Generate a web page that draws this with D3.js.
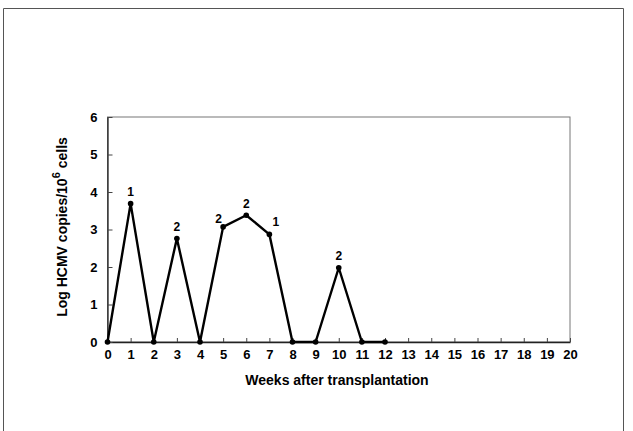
<!DOCTYPE html>
<html>
<head>
<meta charset="utf-8">
<script src="https://cdn.jsdelivr.net/npm/d3@7.9.0/dist/d3.min.js"></script>
<style>
  body { margin: 0; background: #fff; }
  svg { display: block; font-family: "Liberation Sans", Arial, sans-serif; }
</style>
</head>
<body>
<div id="chart"></div>
<script>
// weeks after transplantation and log HCMV copies / 10^6 cells
const weeks = [0, 1, 2, 3, 4, 5, 6, 7, 8, 9, 10, 11, 12];
const logCopies = [0, 3.69, 0, 2.76, 0, 3.07, 3.38, 2.87, 0, 0, 1.98, 0, 0];
// numbers printed above some points
const pointLabels = [null, '1', null, '2', null, '2', '2', '1', null, null, '2', null, null];
const xTicks = d3.range(0, 21);
const yTicks = [0, 1, 2, 3, 4, 5, 6];

const width = 633, height = 431;
const area = { left: 107.5, right: 570, top: 117, bottom: 342 };

const svg = d3.select('#chart').append('svg')
  .attr('width', width)
  .attr('height', height);

// outer frame of the figure
svg.append('path')
  .attr('d', `M3.5,${height} V8.5 H623.5 V${height}`)
  .attr('fill', 'none')
  .attr('stroke', '#555')
  .attr('stroke-width', 1);

const x = d3.scaleLinear().domain([0, 20]).range([area.left, area.right]);
const y = d3.scaleLinear().domain([0, 6]).range([area.bottom, area.top]);

// plot box
svg.append('rect')
  .attr('x', area.left).attr('y', area.top)
  .attr('width', area.right - area.left).attr('height', area.bottom - area.top)
  .attr('fill', 'none').attr('stroke', '#777').attr('stroke-width', 1);

const xAxis = svg.append('g')
  .attr('transform', `translate(0,${area.bottom})`)
  .call(d3.axisBottom(x).tickValues(xTicks).tickFormat(d3.format('d'))
    .tickSizeInner(-4).tickSizeOuter(0).tickPadding(8));

const yAxis = svg.append('g')
  .attr('transform', `translate(${area.left},0)`)
  .call(d3.axisLeft(y).tickValues(yTicks).tickFormat(d3.format('d'))
    .tickSizeInner(-5).tickSizeOuter(0).tickPadding(10));

[xAxis, yAxis].forEach(g => {
  g.select('.domain').attr('stroke', '#222').attr('stroke-width', 1.3);
  g.selectAll('.tick line').attr('stroke', '#444');
  g.selectAll('.tick text')
    .attr('fill', '#000')
    .style('font-size', '13px')
    .style('font-weight', 'bold');
});

const pts = weeks.map((w, i) => ({ w, v: logCopies[i], label: pointLabels[i] }));

const line = d3.line().x(d => x(d.w)).y(d => y(d.v));
svg.append('path')
  .datum(pts)
  .attr('d', line)
  .attr('fill', 'none')
  .attr('stroke', '#000')
  .attr('stroke-width', 2.4)
  .attr('stroke-linejoin', 'round');

svg.append('g').selectAll('circle')
  .data(pts)
  .join('circle')
  .attr('cx', d => x(d.w))
  .attr('cy', d => y(d.v))
  .attr('r', 2.8)
  .attr('fill', '#000');

// label nudges (dx, dy from the point)
const labelOffset = { 5: [-4.5, -4], 7: [6.5, -8] };
svg.append('g').selectAll('text')
  .data(pts.filter(d => d.label))
  .join('text')
  .attr('x', d => x(d.w) + (labelOffset[d.w] ? labelOffset[d.w][0] : 0))
  .attr('y', d => y(d.v) + (labelOffset[d.w] ? labelOffset[d.w][1] : -7.5))
  .attr('text-anchor', 'middle')
  .style('font-size', '12px')
  .style('font-weight', 'bold')
  .text(d => d.label);

// axis titles
svg.append('text')
  .attr('x', 337)
  .attr('y', 385)
  .attr('text-anchor', 'middle')
  .style('font-size', '14px')
  .style('font-weight', 'bold')
  .text('Weeks after transplantation');

const yTitle = svg.append('text')
  .attr('transform', `translate(67,227) rotate(-90)`)
  .attr('text-anchor', 'middle')
  .style('font-size', '14px')
  .style('font-weight', 'bold');
yTitle.append('tspan').text('Log HCMV copies/10');
yTitle.append('tspan').attr('dy', -7).style('font-size', '11px').text('6');
yTitle.append('tspan').attr('dy', 7).text('  cells');
</script>
</body>
</html>
